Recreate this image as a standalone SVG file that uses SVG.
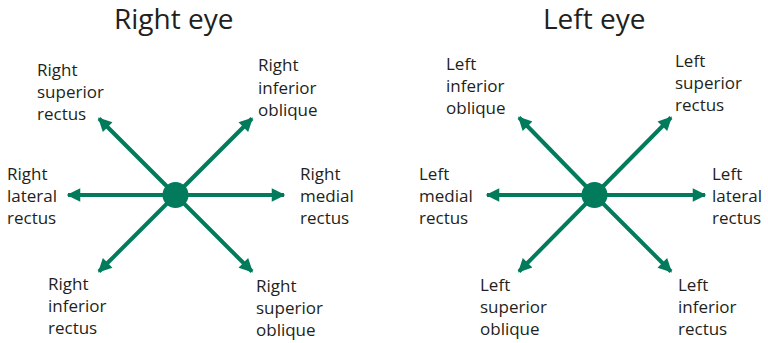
<svg xmlns="http://www.w3.org/2000/svg" width="768" height="343" viewBox="0 0 768 343">
<style>
text{font-family:"Open Sans","Noto Sans","Liberation Sans",sans-serif;fill:#231f20}
.t{font-size:28px}
.l{font-size:17px}
.a{stroke:#017b5b;stroke-width:4;fill:none;marker-end:url(#ah)}
.d{fill:#017b5b}
</style>
<defs>
<marker id="ah" viewBox="0 0 10 10" refX="9" refY="5" markerWidth="4" markerHeight="3.4" markerUnits="strokeWidth" orient="auto">
<path d="M0,0 L10,5 L0,10 Z" fill="#017b5b"/>
</marker>
</defs>
<g id="right-eye-title"><text class="t" x="114" y="29">Right eye</text></g>
<g id="left-eye-title"><text class="t" x="543" y="29">Left eye</text></g>
<g id="connectors">
<line class="a" x1="175.5" y1="195" x2="68" y2="195"/>
<line class="a" x1="175.5" y1="195" x2="284" y2="195"/>
<line class="a" x1="175.5" y1="195" x2="99" y2="118.5"/>
<line class="a" x1="175.5" y1="195" x2="252" y2="118.5"/>
<line class="a" x1="175.5" y1="195" x2="99" y2="271.5"/>
<line class="a" x1="175.5" y1="195" x2="252" y2="271.5"/>
<line class="a" x1="594.5" y1="195" x2="487" y2="195"/>
<line class="a" x1="594.5" y1="195" x2="705" y2="195"/>
<line class="a" x1="594.5" y1="195" x2="519" y2="117.5"/>
<line class="a" x1="594.5" y1="195" x2="671" y2="117.5"/>
<line class="a" x1="594.5" y1="195" x2="519" y2="271.5"/>
<line class="a" x1="594.5" y1="195" x2="671" y2="271.5"/>
</g>
<g id="right-center"><circle class="d" cx="175.5" cy="195" r="13"/></g>
<g id="left-center"><circle class="d" cx="594.5" cy="195" r="13"/></g>
<g id="right-superior-rectus"><text class="l" x="37" y="76">Right</text><text class="l" x="37" y="98">superior</text><text class="l" x="37" y="120">rectus</text></g>
<g id="right-inferior-oblique"><text class="l" x="258" y="71">Right</text><text class="l" x="258" y="94">inferior</text><text class="l" x="258" y="116">oblique</text></g>
<g id="right-lateral-rectus"><text class="l" x="7" y="180">Right</text><text class="l" x="7" y="202">lateral</text><text class="l" x="7" y="224">rectus</text></g>
<g id="right-medial-rectus"><text class="l" x="300" y="180">Right</text><text class="l" x="300" y="202">medial</text><text class="l" x="300" y="224">rectus</text></g>
<g id="right-inferior-rectus"><text class="l" x="48" y="290">Right</text><text class="l" x="48" y="312">inferior</text><text class="l" x="48" y="334">rectus</text></g>
<g id="right-superior-oblique"><text class="l" x="256" y="292">Right</text><text class="l" x="256" y="314">superior</text><text class="l" x="256" y="336">oblique</text></g>
<g id="left-inferior-oblique"><text class="l" x="446" y="70">Left</text><text class="l" x="446" y="92">inferior</text><text class="l" x="446" y="114">oblique</text></g>
<g id="left-superior-rectus"><text class="l" x="675" y="67">Left</text><text class="l" x="675" y="89">superior</text><text class="l" x="675" y="111">rectus</text></g>
<g id="left-medial-rectus"><text class="l" x="419" y="180">Left</text><text class="l" x="419" y="202">medial</text><text class="l" x="419" y="224">rectus</text></g>
<g id="left-lateral-rectus"><text class="l" x="712" y="180">Left</text><text class="l" x="712" y="202">lateral</text><text class="l" x="712" y="224">rectus</text></g>
<g id="left-superior-oblique"><text class="l" x="480" y="291">Left</text><text class="l" x="480" y="313">superior</text><text class="l" x="480" y="335">oblique</text></g>
<g id="left-inferior-rectus"><text class="l" x="678" y="291">Left</text><text class="l" x="678" y="313">inferior</text><text class="l" x="678" y="335">rectus</text></g>
</svg>
